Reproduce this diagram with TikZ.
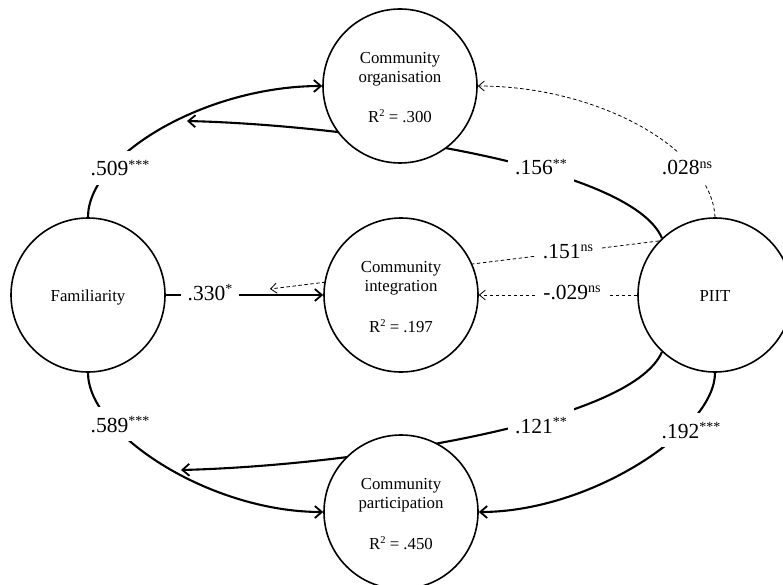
\documentclass[tikz,border=0pt]{standalone}
\usepackage{fontspec}
\setmainfont{Liberation Serif}
\usetikzlibrary{arrows.meta,calc}
\pgfdeclarelayer{bg}
\pgfsetlayers{bg,main}
\newcommand{\sig}[1]{\raisebox{6.5pt}{\fontsize{14}{14}\selectfont #1}}
\newcommand{\rsq}{R\raisebox{6pt}{\fontsize{10.5}{10.5}\selectfont 2}}
\begin{document}
\begin{tikzpicture}[x=1pt,y=-1pt,
  var/.style={circle,draw,line width=1.6pt,fill=white,minimum size=154pt,inner sep=0pt},
  ctext/.style={font=\fontsize{16.8}{19}\selectfont,inner sep=0pt,anchor=base},
  coef/.style={font=\fontsize{21.5}{25}\selectfont,fill=white,inner xsep=7pt,inner ysep=9pt,anchor=base},
  sigpath/.style={line width=2.1pt,-{Straight Barb[length=7pt,width=12pt,line width=1.8pt]}},
  nspath/.style={line width=0.8pt,dash pattern=on 3.5pt off 2.5pt,-{Straight Barb[length=6pt,width=10pt,line width=0.8pt]}}]
\useasboundingbox (0,0) rectangle (783,585);
\node[var] (fam) at (88,295) {};
\node[var] (co) at (400,86) {};
\node[var] (ci) at (401,295) {};
\node[var] (cp) at (401,512) {};
\node[var] (piit) at (715,295) {};
\coordinate (t156) at (187,121);
\coordinate (t121) at (181,470);
\coordinate (t151) at (270,289);
\begin{pgfonlayer}{bg}
\draw[sigpath] (fam.north) .. controls +(0,-62) and +(-116,0) .. (co.west);
\draw[sigpath] (fam.south) .. controls +(0,60) and +(-114,0) .. (cp.west);
\draw[sigpath] (fam.east) -- (ci.west);
\draw[sigpath] (piit.133) .. controls +(-31,-73) and +(163,4) .. (t156);
\draw[sigpath] (piit.227) .. controls +(-31,73) and +(163,-4) .. (t121);
\draw[sigpath] (piit.south) .. controls +(0,57) and +(112,0) .. (cp.east);
\draw[nspath] (piit.north) .. controls +(-3,-67) and +(122,0) .. (co.east);
\draw[nspath] (piit.136) -- (t151);
\draw[nspath] (piit.west) -- (ci.east);
\end{pgfonlayer}
\node[ctext] (co1) at ($(co.center)+(0,-22.5)$) {Community};
\node[ctext] (co2) at ($(co.center)+(0,-3.5)$) {organisation};
\node[ctext] (co3) at ($(co.center)+(0,37)$) {\rsq{} = .300};
\node[ctext] (ci1) at ($(ci.center)+(0,-22.5)$) {Community};
\node[ctext] (ci2) at ($(ci.center)+(0,-3.5)$) {integration};
\node[ctext] (ci3) at ($(ci.center)+(0,37)$) {\rsq{} = .197};
\node[ctext] (cp1) at ($(cp.center)+(0,-22.5)$) {Community};
\node[ctext] (cp2) at ($(cp.center)+(0,-3.5)$) {participation};
\node[ctext] (cp3) at ($(cp.center)+(0,37)$) {\rsq{} = .450};
\node[ctext] (fam1) at ($(fam.center)+(0,6.5)$) {Familiarity};
\node[ctext] (piit1) at ($(piit.center)+(0,6.5)$) {PIIT};
\node[coef] (l509) at (120,176) {.509\sig{***}};
\node[coef] (l156) at (541,175) {.156\sig{**}};
\node[coef] (l028) at (687,175) {.028\sig{ns}};
\node[coef] (l151) at (568,258) {.151\sig{ns}};
\node[coef] (l029) at (572,299) {-.029\sig{ns}};
\node[coef] (l330) at (210,300) {.330\sig{*}};
\node[coef] (l589) at (120,432) {.589\sig{***}};
\node[coef] (l121) at (541,433) {.121\sig{**}};
\node[coef] (l192) at (691,438) {.192\sig{***}};
\end{tikzpicture}
\end{document}
